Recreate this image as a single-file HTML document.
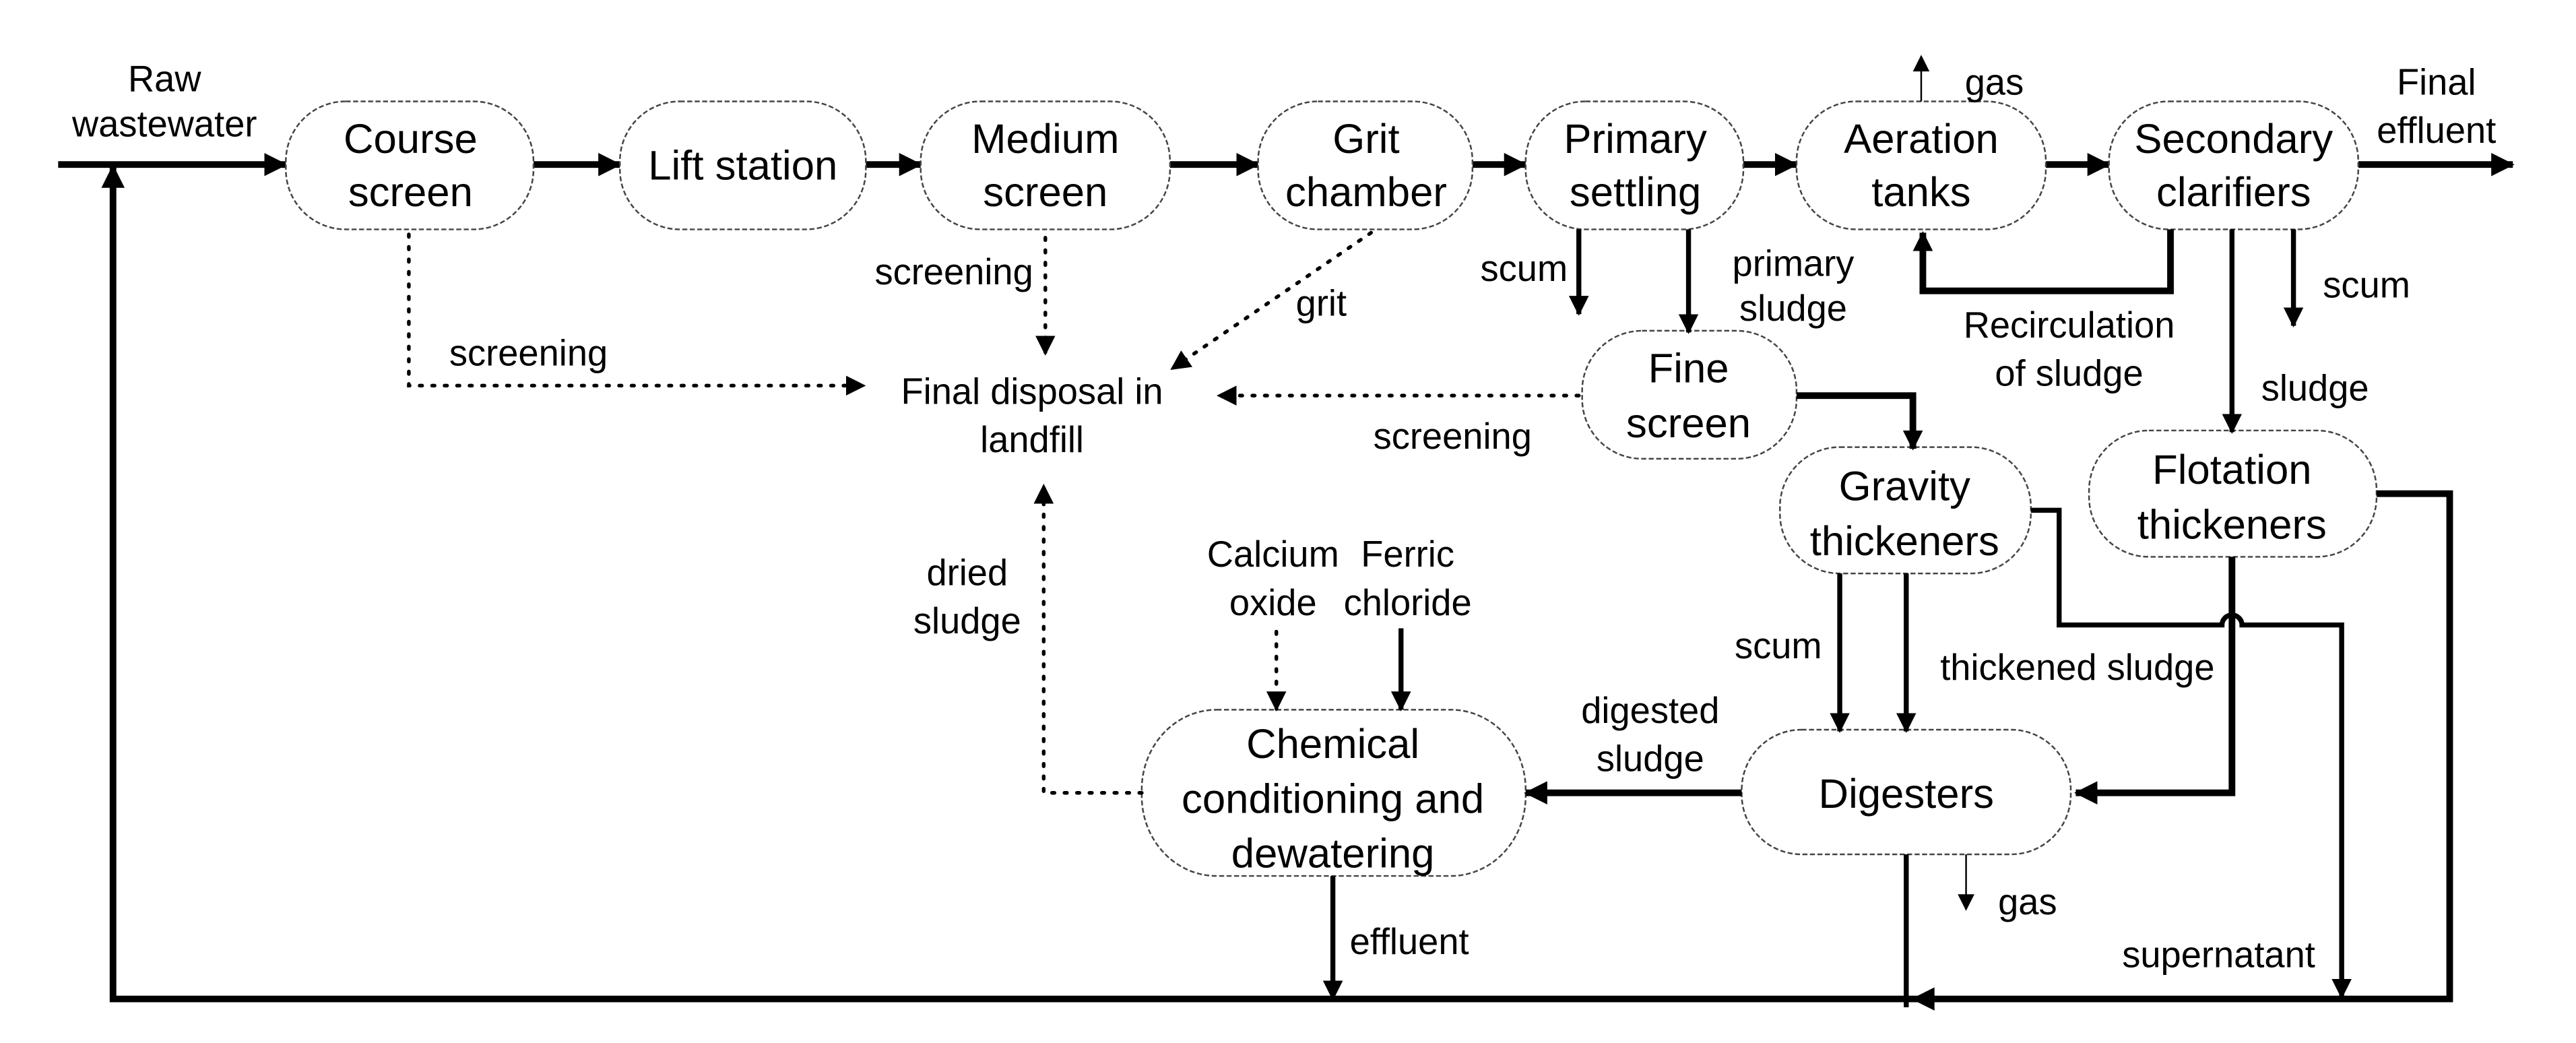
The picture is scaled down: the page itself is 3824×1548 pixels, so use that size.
<!DOCTYPE html>
<html><head><meta charset="utf-8"><style>
html,body{margin:0;padding:0;background:#fff;}
svg{display:block;}
text{font-family:"Liberation Sans",Arial,sans-serif;fill:#000;}
.b{font-size:25px;text-anchor:middle;}
.l{font-size:22px;text-anchor:middle;}
.box{fill:#fff;stroke:#444;stroke-width:1;stroke-dasharray:3 1.5;}
.t{stroke:#000;stroke-width:4;fill:none;}
.m{stroke:#000;stroke-width:3;fill:none;}
.d{stroke:#000;stroke-width:2.2;fill:none;stroke-dasharray:1.5 6;stroke-linecap:round;}
.g{stroke:#000;stroke-width:1;fill:none;}
</style></head><body>
<svg width="3824" height="1548" viewBox="0 0 1550 627.5" preserveAspectRatio="none" xmlns="http://www.w3.org/2000/svg">
<defs>
<marker id="a" markerUnits="userSpaceOnUse" markerWidth="14" markerHeight="14" refX="13" refY="7" orient="auto"><path d="M0,0 L14,7 L0,14 z" fill="#000"/></marker>
<marker id="s" markerUnits="userSpaceOnUse" markerWidth="12" markerHeight="12" refX="11" refY="6" orient="auto"><path d="M0,0 L12,6 L0,12 z" fill="#000"/></marker>
<marker id="k" markerUnits="userSpaceOnUse" markerWidth="10" markerHeight="10" refX="9" refY="5" orient="auto"><path d="M0,0 L10,5 L0,10 z" fill="#000"/></marker>
</defs>

<!-- main flow -->
<line class="t" x1="35" y1="99" x2="172" y2="99" marker-end="url(#a)"/>
<line class="t" x1="321" y1="99" x2="373" y2="99" marker-end="url(#a)"/>
<line class="t" x1="521" y1="99" x2="554" y2="99" marker-end="url(#a)"/>
<line class="t" x1="704" y1="99" x2="757" y2="99" marker-end="url(#a)"/>
<line class="t" x1="886" y1="99" x2="918" y2="99" marker-end="url(#a)"/>
<line class="t" x1="1049" y1="99" x2="1081" y2="99" marker-end="url(#a)"/>
<line class="t" x1="1231" y1="99" x2="1269" y2="99" marker-end="url(#a)"/>
<line class="t" x1="1419" y1="99" x2="1512" y2="99" marker-end="url(#a)"/>

<!-- boxes -->
<rect class="box" x="172" y="61" width="149" height="77" rx="36" ry="36"/>
<rect class="box" x="373" y="61" width="148" height="77" rx="36" ry="36"/>
<rect class="box" x="554" y="61" width="150" height="77" rx="36" ry="36"/>
<rect class="box" x="757" y="61" width="129" height="77" rx="36" ry="36"/>
<rect class="box" x="918" y="61" width="131" height="77" rx="36" ry="36"/>
<rect class="box" x="1081" y="61" width="150" height="77" rx="36" ry="36"/>
<rect class="box" x="1269" y="61" width="150" height="77" rx="36" ry="36"/>
<rect class="box" x="952" y="199" width="129" height="77" rx="36" ry="36"/>
<rect class="box" x="1071" y="269" width="151" height="76" rx="36" ry="36"/>
<rect class="box" x="1257" y="259" width="173" height="76" rx="36" ry="36"/>
<rect class="box" x="1048" y="439" width="198" height="75" rx="36" ry="36"/>
<rect class="box" x="687" y="427" width="231" height="100" rx="45" ry="48"/>

<text class="b" x="247" y="92">Course</text><text class="b" x="247" y="124">screen</text>
<text class="b" x="447" y="108">Lift station</text>
<text class="b" x="629" y="92">Medium</text><text class="b" x="629" y="124">screen</text>
<text class="b" x="822" y="92">Grit</text><text class="b" x="822" y="124">chamber</text>
<text class="b" x="984" y="92">Primary</text><text class="b" x="984" y="124">settling</text>
<text class="b" x="1156" y="92">Aeration</text><text class="b" x="1156" y="124">tanks</text>
<text class="b" x="1344" y="92">Secondary</text><text class="b" x="1344" y="124">clarifiers</text>
<text class="b" x="1016" y="230">Fine</text><text class="b" x="1016" y="263">screen</text>
<text class="b" x="1146" y="301">Gravity</text><text class="b" x="1146" y="334">thickeners</text>
<text class="b" x="1343" y="291">Flotation</text><text class="b" x="1343" y="324">thickeners</text>
<text class="b" x="1147" y="486">Digesters</text>
<text class="b" x="802" y="456">Chemical</text><text class="b" x="802" y="489">conditioning and</text><text class="b" x="802" y="522">dewatering</text>

<!-- labels top -->
<text class="l" x="99" y="55">Raw</text><text class="l" x="99" y="82">wastewater</text>
<text class="l" x="1466" y="57">Final</text><text class="l" x="1466" y="86">effluent</text>
<line class="g" x1="1156" y1="61" x2="1156" y2="34" marker-end="url(#k)"/>
<text class="l" x="1200" y="57">gas</text>

<!-- dotted to landfill -->
<polyline class="d" points="246,141 246,232 520,232" marker-end="url(#s)"/>
<text class="l" x="318" y="220">screening</text>
<polyline class="d" points="629,143 629,213" marker-end="url(#s)"/>
<text class="l" x="574" y="171">screening</text>
<polyline class="d" points="825,140 705,222" marker-end="url(#s)"/>
<text class="l" x="795" y="190">grit</text>
<polyline class="d" points="950,238 733,238" marker-end="url(#s)"/>
<text class="l" x="874" y="270">screening</text>
<polyline class="d" points="687,477 628,477 628,292" marker-end="url(#s)"/>
<text class="l" x="582" y="352">dried</text><text class="l" x="582" y="381">sludge</text>
<text class="l" x="621" y="243">Final disposal in</text><text class="l" x="621" y="272">landfill</text>

<!-- primary settling outputs -->
<line class="m" x1="950" y1="138" x2="950" y2="189" marker-end="url(#s)"/>
<text class="l" x="917" y="169">scum</text>
<line class="m" x1="1016" y1="138" x2="1016" y2="200" marker-end="url(#s)"/>
<text class="l" x="1079" y="166">primary</text><text class="l" x="1079" y="193">sludge</text>
<polyline class="t" points="1081,238 1151,238 1151,270" marker-end="url(#s)"/>

<!-- secondary outputs -->
<polyline class="t" points="1306,138 1306,175 1157,175 1157,140" marker-end="url(#s)"/>
<text class="l" x="1245" y="203">Recirculation</text><text class="l" x="1245" y="232">of sludge</text>
<line class="m" x1="1343" y1="138" x2="1343" y2="260" marker-end="url(#s)"/>
<text class="l" x="1393" y="241">sludge</text>
<line class="m" x1="1380" y1="138" x2="1380" y2="196" marker-end="url(#s)"/>
<text class="l" x="1424" y="179">scum</text>

<!-- gravity outputs -->
<line class="m" x1="1107" y1="345" x2="1107" y2="440" marker-end="url(#s)"/>
<text class="l" x="1070" y="396">scum</text>
<line class="m" x1="1147" y1="345" x2="1147" y2="440" marker-end="url(#s)"/>
<text class="l" x="1250" y="409">thickened sludge</text>
<path class="m" d="M1222,307 L1239,307 L1239,376 L1337,376 A6,6 0 0 1 1349,376 L1409,376 L1409,600" marker-end="url(#s)"/>
<text class="l" x="1335" y="582">supernatant</text>

<!-- flotation outputs -->
<polyline class="t" points="1343,335 1343,477 1249,477" marker-end="url(#a)"/>
<polyline class="t" points="1430,297 1474,297 1474,601 68,601 68,100" marker-end="url(#a)"/>
<path d="M1150,601 L1164,594 L1164,608 z" fill="#000"/>

<!-- digesters outputs -->
<line class="m" x1="1147" y1="514" x2="1147" y2="606"/>
<line class="g" x1="1183" y1="514" x2="1183" y2="547" marker-end="url(#k)"/>
<text class="l" x="1220" y="550">gas</text>
<line class="t" x1="1048" y1="477" x2="918" y2="477" marker-end="url(#a)"/>
<text class="l" x="993" y="435">digested</text><text class="l" x="993" y="464">sludge</text>

<!-- chemicals -->
<text class="l" x="766" y="341">Calcium</text><text class="l" x="766" y="370">oxide</text>
<polyline class="d" points="768,380 768,427" marker-end="url(#s)"/>
<text class="l" x="847" y="341">Ferric</text><text class="l" x="847" y="370">chloride</text>
<line class="m" x1="843" y1="378" x2="843" y2="427" marker-end="url(#s)"/>

<!-- effluent -->
<line class="m" x1="802" y1="527" x2="802" y2="601" marker-end="url(#s)"/>
<text class="l" x="848" y="574">effluent</text>
</svg>
</body></html>
